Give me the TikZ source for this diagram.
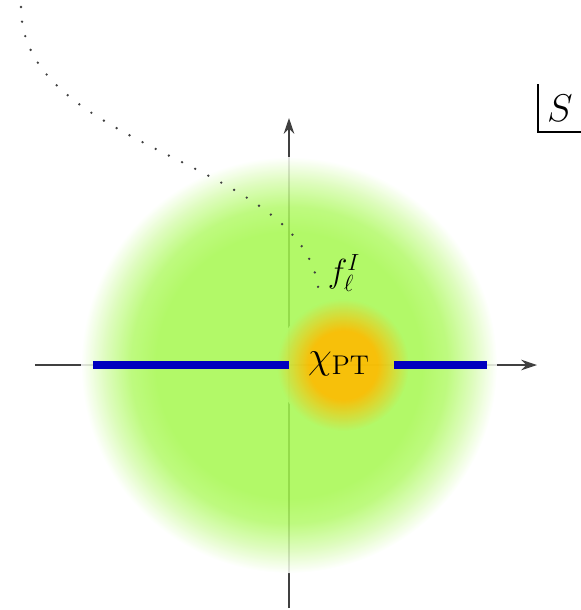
\documentclass[tikz,border=0pt]{standalone}
\usepackage{fix-cm}
\usetikzlibrary{arrows.meta}
\definecolor{lime}{RGB}{165,248,78}
\definecolor{amber}{RGB}{255,186,0}
\pgfdeclareradialshading{limeglow}{\pgfpoint{0bp}{0bp}}{color(0bp)=(lime); color(16bp)=(lime); color(19bp)=(lime!85!white); color(22bp)=(lime!45!white); color(25bp)=(white); color(50bp)=(white)}
\pgfdeclareradialshading{amberglow}{\pgfpoint{0bp}{0bp}}{color(0bp)=(amber); color(13bp)=(amber); color(25bp)=(lime!85!white); color(50bp)=(lime!85!white)}

\begin{document}
\begin{tikzpicture}[x=0.02cm,y=-0.02cm,
  axis/.style={-{Stealth[length=9pt,width=6pt]},draw=black!75,line width=0.6pt},
  band/.style={line width=4pt,draw=blue!75!black},
  lbl/.style={inner sep=0pt,font=\fontsize{22}{26}\selectfont}]
  \useasboundingbox (0,0) rectangle (581,610);
  \coordinate (O) at (289,365);
  \coordinate (xl) at (35,365);
  \coordinate (xr) at (537,365);
  \coordinate (yb) at (289,608);
  \coordinate (yt) at (289,118);
  \draw[axis] (xl) -- (xr);
  \draw[axis] (yb) -- (yt);
  \shade[shading=limeglow,fill opacity=0.85] (O) circle (208);
  \shade[shading=amberglow,fill opacity=0.9] (343,365) circle (66);
  \coordinate (bl) at (93,365);
  \coordinate (br1) at (394,365);
  \coordinate (br2) at (487,365);
  \draw[band] (bl) -- (O);
  \draw[band] (br1) -- (br2);
  \node[lbl] (chi) at (339,364) {$\chi_{\mathrm{PT}}$};
  \node[lbl,font=\fontsize{19}{23}\selectfont] (f) at (344,273) {$f_\ell^I$};
  \coordinate (top) at (21,7);
  \coordinate (end) at (319,300);
  \draw[black!75,line width=1.5pt,line cap=round,dash pattern=on 0pt off 8.4pt]
    (top) .. controls (21,154) and (319,160) .. (end);
  \node[lbl,minimum width=0.86cm,minimum height=0.94cm] (s) at (560,108) {$S$};
  \draw[line width=1pt] (s.north west) |- (s.south east);
\end{tikzpicture}
\end{document}
